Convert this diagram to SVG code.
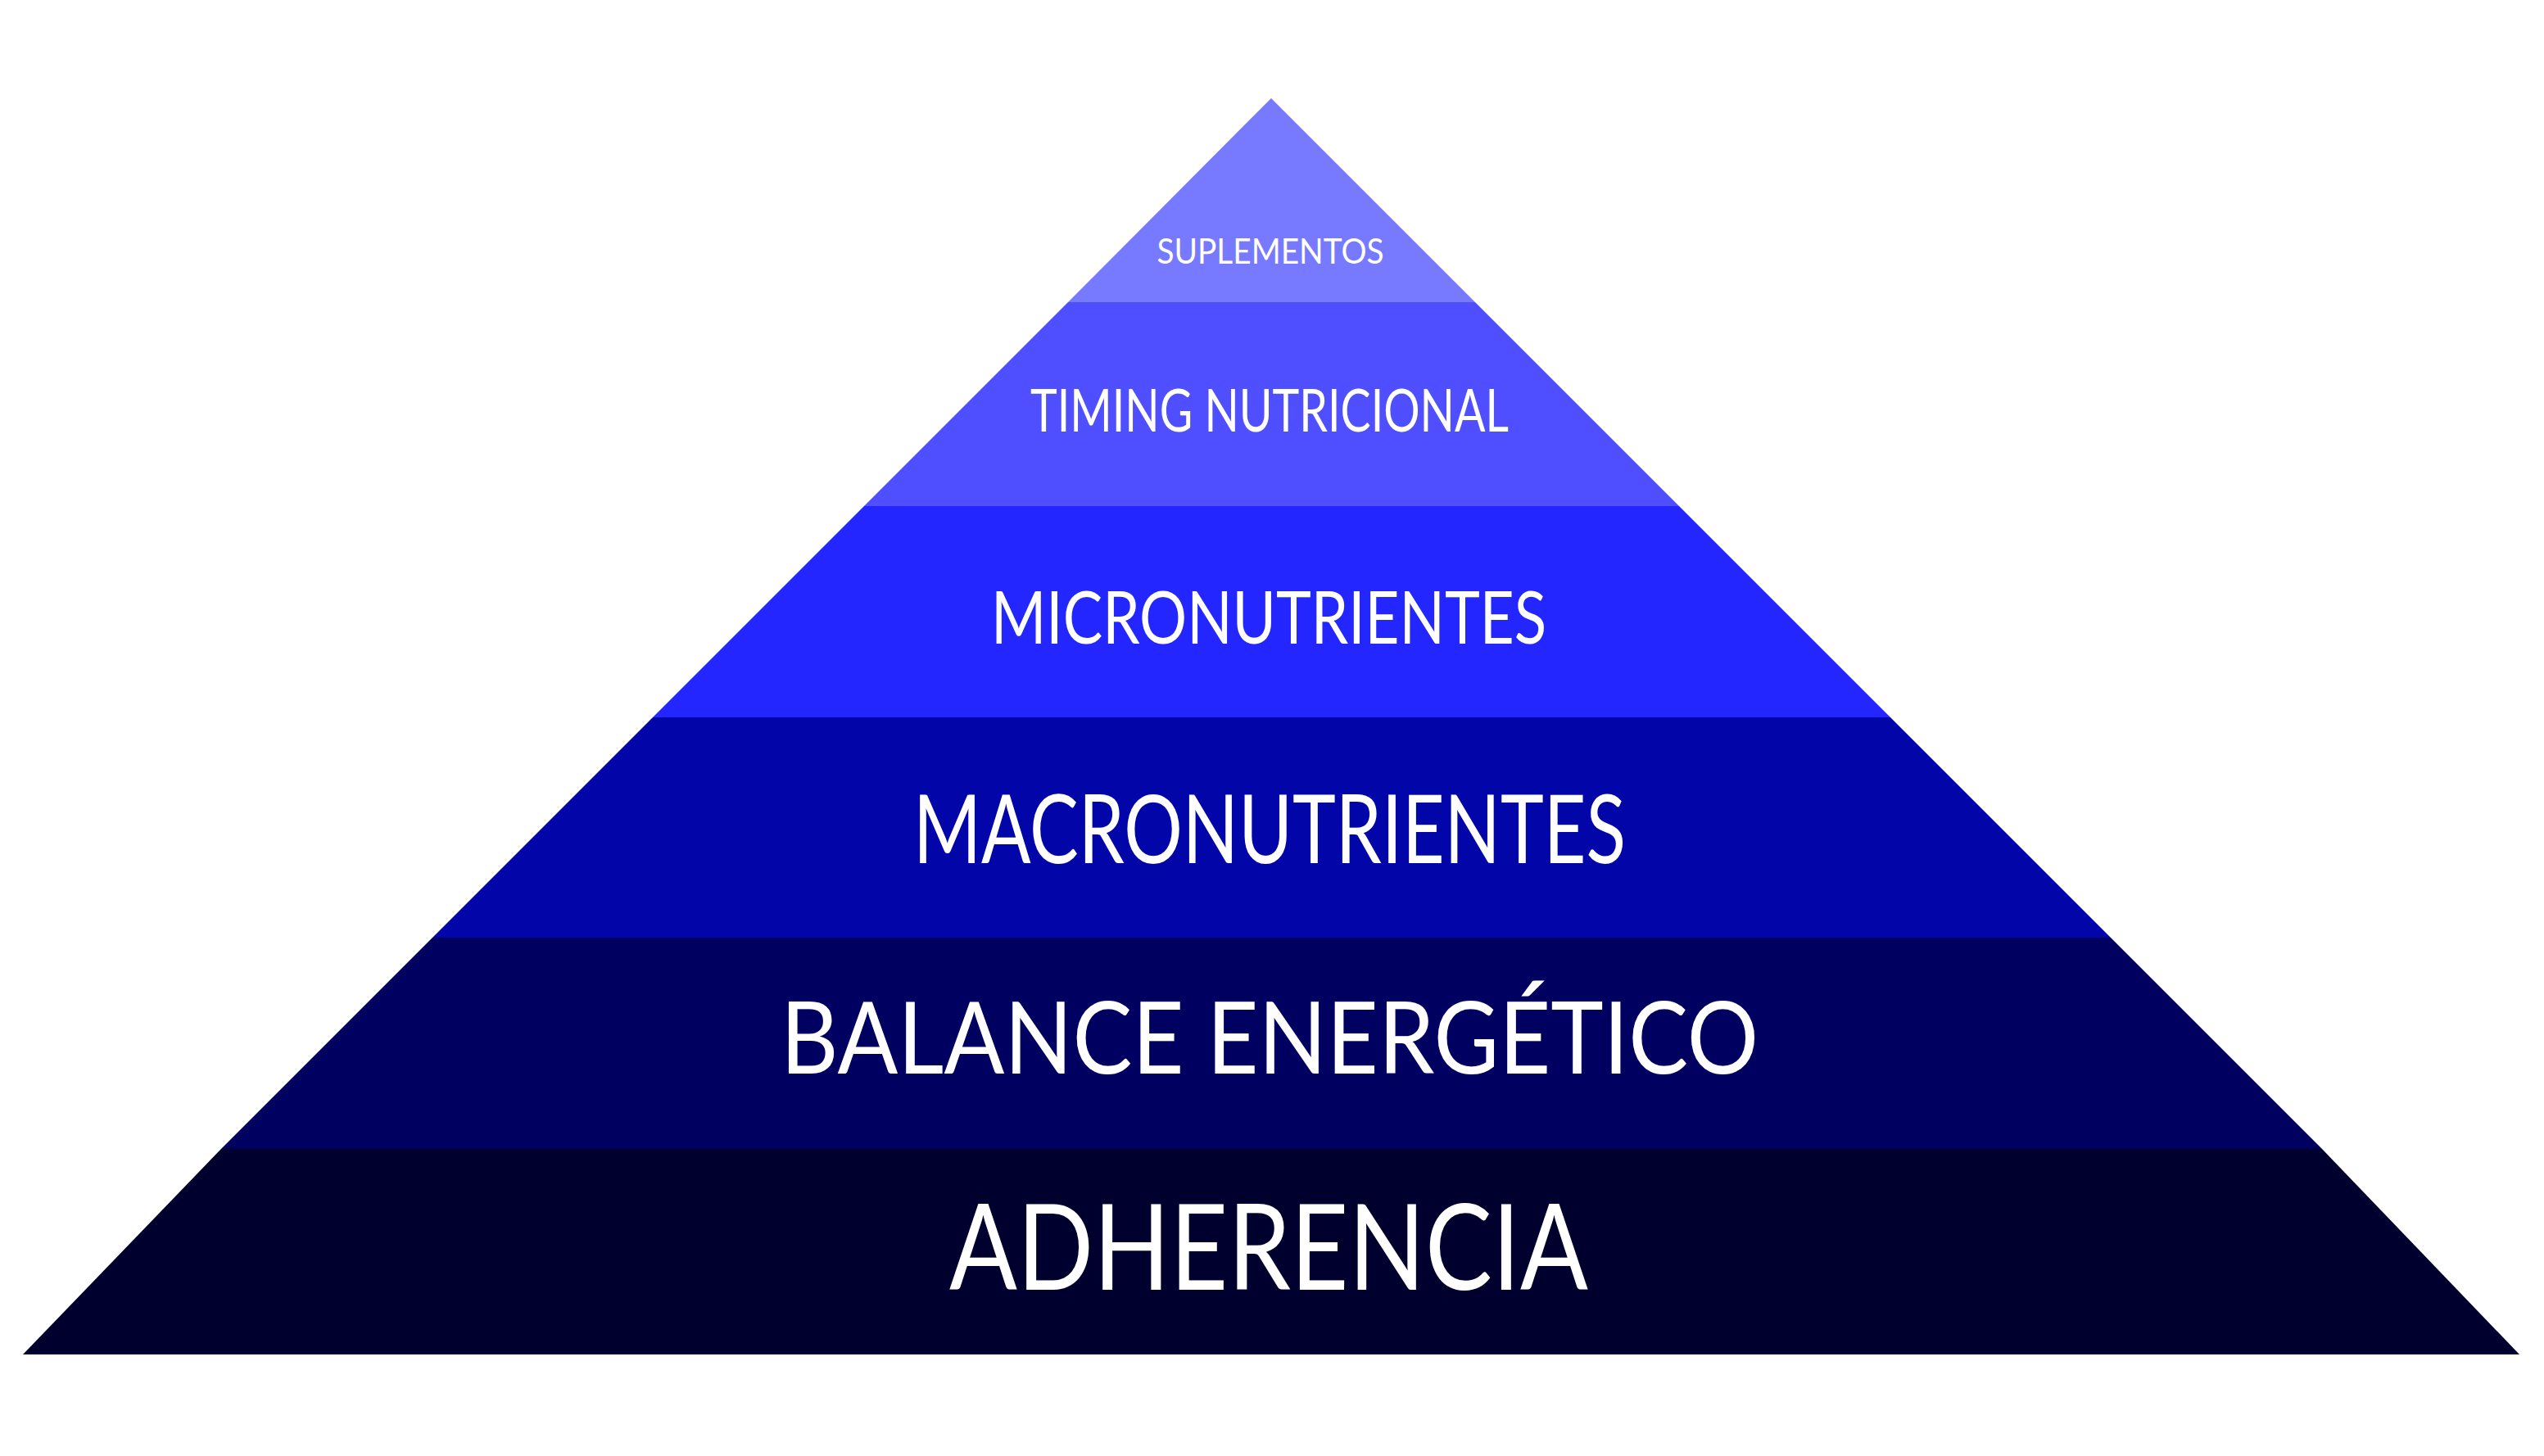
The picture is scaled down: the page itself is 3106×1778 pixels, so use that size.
<svg xmlns="http://www.w3.org/2000/svg" width="3106" height="1778" viewBox="0 0 3106 1778">
<style>
text{font-family:Lato,"Open Sans","Liberation Sans",sans-serif;fill:#fff;text-anchor:middle}
</style>
<rect width="3106" height="1778" fill="#fff"/>
<g id="suplementos"><polygon points="1552,120 1304,369 1801,369" fill="#7779FF"/><text x="1551" y="322" font-size="42" textLength="277" lengthAdjust="spacingAndGlyphs">SUPLEMENTOS</text></g>
<g id="timing"><polygon points="1304,369 1801,369 2050,618 1055,618" fill="#4F4FFF"/><text x="1550" y="527" font-size="72" textLength="584" lengthAdjust="spacingAndGlyphs">TIMING NUTRICIONAL</text></g>
<g id="micro"><polygon points="1055,618 2050,618 2308,876 797,876" fill="#2326FF"/><text x="1549" y="786" font-size="90" textLength="678" lengthAdjust="spacingAndGlyphs">MICRONUTRIENTES</text></g>
<g id="macro"><polygon points="797,876 2308,876 2577,1145 528,1145" fill="#0206A8"/><text x="1550" y="1054" font-size="116" textLength="870" lengthAdjust="spacingAndGlyphs">MACRONUTRIENTES</text></g>
<g id="balance"><polygon points="528,1145 2577,1145 2835,1403 270,1403" fill="#000060"/><text x="1550" y="1311" font-size="122" textLength="1194" lengthAdjust="spacingAndGlyphs">BALANCE ENERGÉTICO</text></g>
<g id="adherencia"><polygon points="270,1403 2835,1403 3076,1654 28,1654" fill="#00002E"/><text x="1549" y="1575" font-size="146" textLength="780" lengthAdjust="spacingAndGlyphs">ADHERENCIA</text></g>
<g id="connectors"/>
</svg>
